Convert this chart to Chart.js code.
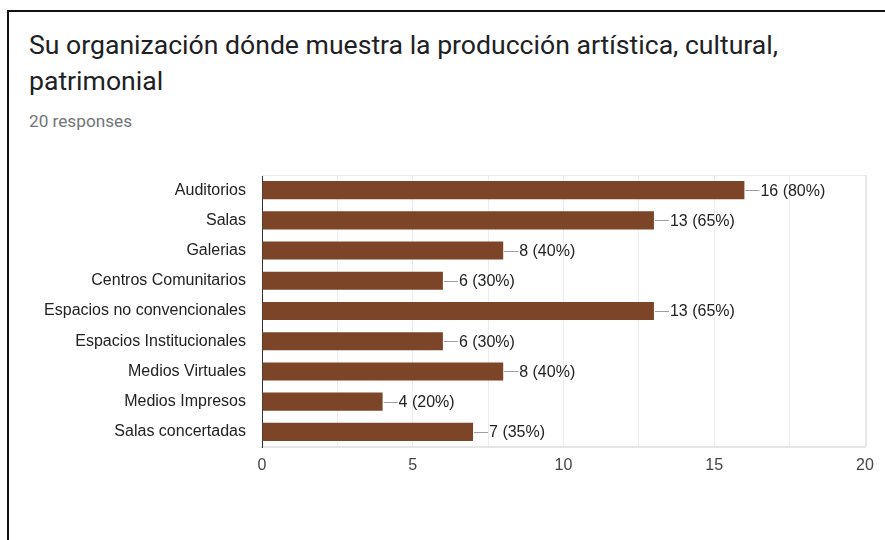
<!DOCTYPE html>
<html><head><meta charset="utf-8">
<script src="https://cdn.jsdelivr.net/npm/chart.js@4"></script>
<style>
html,body{margin:0;padding:0;background:#fff;width:885px;height:540px;overflow:hidden;}
#frame{position:absolute;left:7px;top:10px;width:900px;height:560px;border-left:2px solid #111;border-top:2px solid #111;}
#title{position:absolute;left:29px;top:27px;font-family:Roboto,sans-serif;font-size:26.6px;line-height:36px;color:#202124;}
#sub{position:absolute;left:29px;top:111px;font-family:Roboto,sans-serif;font-size:17.2px;color:#70757a;}
#wrap{position:absolute;left:0;top:0;width:885px;height:540px;}
</style></head>
<body>
<div id="frame"></div>
<div id="title">Su organización dónde muestra la producción artística, cultural,<br>patrimonial</div>
<div id="sub">20 responses</div>
<div id="wrap"><canvas id="c" width="885" height="540"></canvas></div>
<script>
const categories = ["Auditorios","Salas","Galerias","Centros Comunitarios","Espacios no convencionales","Espacios Institucionales","Medios Virtuales","Medios Impresos","Salas concertadas"];
const counts = [16,13,8,6,13,6,8,4,7];
const percents = [80,65,40,30,65,30,40,20,35];
const xTicks = [0,5,10,15,20];

const labelPlugin = {
  id:'valLabels',
  afterDatasetsDraw(chart){
    const ctx = chart.ctx;
    const meta = chart.getDatasetMeta(0);
    const a = chart.chartArea;
    ctx.save();
    ctx.strokeStyle = '#ececec'; ctx.lineWidth = 1;
    ctx.beginPath(); ctx.moveTo(a.left, a.top+0.5); ctx.lineTo(a.right, a.top+0.5); ctx.stroke();
    ctx.strokeStyle = '#e6e6e6'; ctx.lineWidth = 2;
    ctx.beginPath(); ctx.moveTo(a.right+1, a.top); ctx.lineTo(a.right+1, a.bottom); ctx.stroke();
    meta.data.forEach((bar,i)=>{
      const x = bar.x, y = Math.round(bar.y)+0.5;
      ctx.strokeStyle = '#9e9e9e'; ctx.lineWidth = 1;
      ctx.beginPath(); ctx.moveTo(x+1, y); ctx.lineTo(x+15, y); ctx.stroke();
      ctx.fillStyle = '#222';
      ctx.font = '16px "Liberation Sans", Arial, sans-serif';
      ctx.textBaseline = 'middle'; ctx.textAlign = 'left';
      ctx.fillText(counts[i] + ' (' + percents[i] + '%)', x+16, bar.y+1);
    });
    ctx.restore();
  }
};

new Chart(document.getElementById('c'), {
  type:'bar',
  data:{labels:categories, datasets:[{data:counts, backgroundColor:'#7c4527', borderWidth:0, barPercentage:0.6, categoryPercentage:1}]},
  options:{
    indexAxis:'y', responsive:false, animation:false,
    layout:{padding:{top:175, right:20, bottom:0, left:0}},
    plugins:{legend:{display:false}, tooltip:{enabled:false}},
    scales:{
      x:{min:0, max:20,
        afterBuildTicks(s){ s.ticks = [0,2.5,5,7.5,10,12.5,15,17.5,20].map(v=>({value:v})); },
        afterFit(s){ s.height = 93; },
        grid:{color:'#ececec', drawTicks:false, lineWidth:1},
        border:{color:'#e6e6e6', width:2},
        ticks:{padding:9, color:'#444', font:{family:'"Liberation Sans", Arial, sans-serif', size:16},
          callback:(v)=> xTicks.includes(v) ? String(v) : ''}
      },
      y:{
        afterFit(s){ s.width = 262; },
        grid:{display:false, drawTicks:false},
        border:{color:'#333', width:1},
        ticks:{padding:16, color:'#222', font:{family:'"Liberation Sans", Arial, sans-serif', size:16}}
      }
    }
  },
  plugins:[labelPlugin]
});
</script>
</body></html>
